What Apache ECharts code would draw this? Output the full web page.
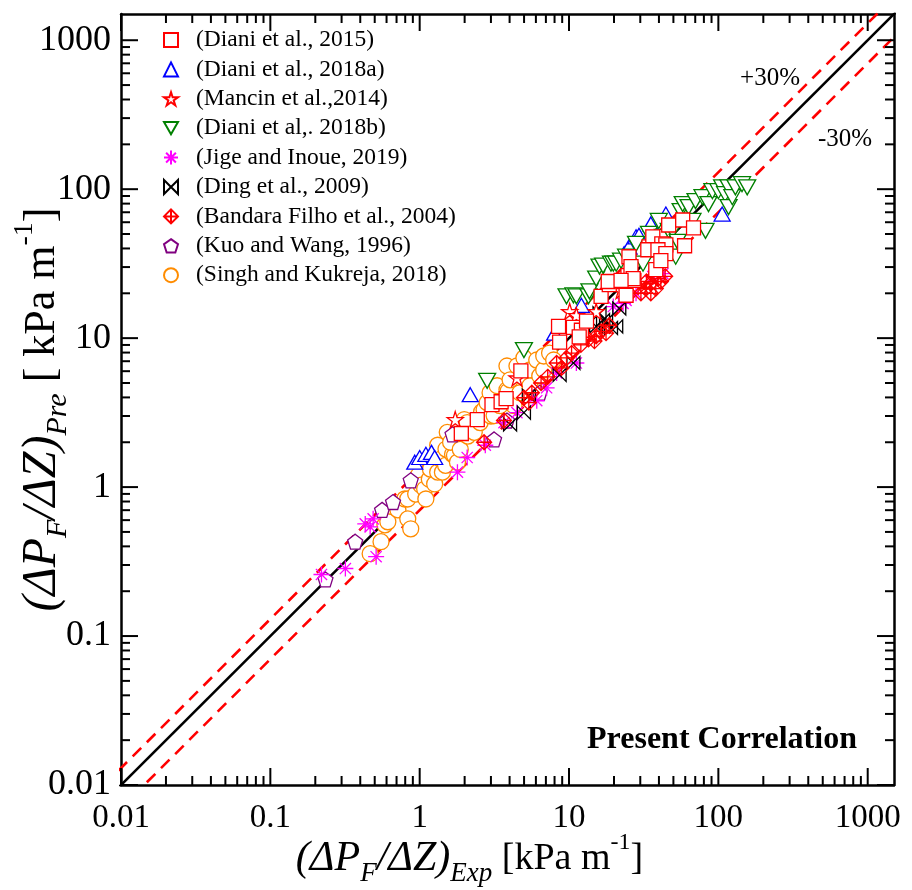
<!DOCTYPE html>
<html><head><meta charset="utf-8">
<script src="https://cdn.jsdelivr.net/npm/echarts@6/dist/echarts.min.js"></script>
<style>html,body{margin:0;padding:0;background:#fff}#c{width:912px;height:890px}</style>
</head><body><div id="c"></div>
<script>
// ---------------- data ----------------
const seriesNames = [
  '(Diani et al., 2015)', '(Diani et al., 2018a)', '(Mancin et al.,2014)',
  '(Diani et al,. 2018b)', '(Jige and Inoue, 2019)', '(Ding et al., 2009)',
  '(Bandara Filho et al., 2004)', '(Kuo and Wang, 1996)', '(Singh and Kukreja, 2018)'
];
const diani2015 = [[1.90,2.29],[2.43,2.84],[3.05,3.58],[3.51,3.74],[3.79,3.92],[4.76,6.03],[8.51,12.0],[8.65,9.40],[10.7,11.8],[12.1,11.3],[13.1,13.0],[11.7,10.2],[16.4,19.1],[18.6,22.9],[24.1,19.4],[25.2,35.2],[27.2,24.4],[24.8,26.3],[38.1,28.8],[34.3,41.0],[36.4,47.9],[41.8,43.0],[46.5,57.5],[57.7,62.1],[68.2,55.0],[44.5,42.3],[33.7,39.2],[59.4,41.7],[39.4,39.2],[44.5,36.9],[41.2,33.1],[26.0,30.2],[18.3,24.0],[26.9,25.1],[22.3,24.4]];
const diani2018a = [[0.927,1.47],[1.0,1.58],[1.10,1.66],[1.20,1.71],[1.26,1.58],[2.18,4.17],[8.01,10.8],[12.1,16.6],[23.4,36.9],[25.2,41.0],[28.1,47.9],[29.4,49.0],[35.3,58.4],[44.5,68.1],[106,68.1]];
const mancin2014 = [[1.73,2.84],[10.1,15.1],[11.2,14.2],[4.48,5.41],[15.2,15.1],[22.3,20.9]];
const diani2018b = [[2.83,5.17],[4.99,8.32],[9.62,19.1],[10.7,19.4],[11.2,19.1],[13.5,19.1],[13.7,20.6],[15.2,25.1],[16.0,30.2],[16.9,30.7],[19.1,31.6],[19.8,31.6],[20.7,31.6],[22.3,33.1],[24.1,35.2],[28.1,43.0],[31.3,31.6],[34.3,50.1],[38.1,41.7],[39.9,61.2],[42.5,47.9],[46.5,52.5],[49.4,52.5],[51.8,35.2],[53.4,44.3],[55.9,71.3],[57.7,79.4],[63.2,75.9],[67.1,61.2],[70.3,83.2],[78.3,88.4],[82.0,52.5],[85.9,79.4],[91.2,97.0],[100,97.0],[106,103],[111,92.6],[117,103],[117,75.9],[124,88.4],[130,103],[144,108],[156,103]];
const jige2019 = [[0.220,0.259],[0.318,0.284],[0.466,0.541],[0.432,0.566],[0.488,0.612],[0.511,0.341],[1.79,1.26],[2.08,1.58],[2.75,1.91],[3.67,2.71],[4.48,3.16],[6.08,3.80],[7.08,4.64],[8.26,5.84],[11.2,6.81],[19.8,16.3],[23.0,17.1],[24.1,17.9],[28.1,20.0],[36.4,25.9],[42.5,27.1]];
const ding2009 = [[4.03,2.63],[4.99,3.16],[5.38,4.10],[8.65,5.67],[10.7,6.81],[15.2,12.0],[16.0,14.7],[17.7,13.0],[19.1,11.7],[21.7,15.8],[20.7,12.0],[16.9,13.2]];
const bandara2004 = [[2.70,2.0],[3.67,2.80],[4.99,3.98],[5.38,3.69],[5.64,4.30],[6.5,5.0],[7.2,5.5],[8.26,6.81],[8.91,6.31],[9.62,7.36],[10.4,7.94],[12.0,9.0],[13.5,9.8],[14.8,9.55],[15.2,10.3],[16.4,11.1],[17.7,10.8],[18.6,12.2],[29.0,22.0],[30.3,20.0],[32.7,21.5],[33.0,24.0],[35.3,23.3],[35.3,20.0],[37.0,26.0],[38.1,21.5],[39.4,25.1],[41.2,24.0],[44.0,26.0]];
const kuo1996 = [[0.234,0.240],[0.370,0.430],[0.560,0.703],[0.663,0.794],[0.871,1.11],[1.66,2.26],[3.15,2.09],[3.84,2.80],[6.37,4.30]];
const singh2018 = [[0.466,0.357],[0.551,0.430],[0.585,0.558],[0.612,0.585],[0.715,0.703],[0.794,0.832],[0.832,0.612],[0.871,0.525],[0.832,0.832],[0.940,0.898],[0.98,1.20],[1.02,1.03],[1.08,0.970],[1.10,0.832],[1.16,1.13],[1.18,1.32],[1.26,1.05],[1.32,1.26],[1.32,1.91],[1.38,1.54],[1.42,1.26],[1.49,1.40],[1.50,1.80],[1.53,2.33],[1.66,1.66],[1.71,1.63],[1.79,1.47],[1.61,2.0],[1.87,1.79],[1.99,2.84],[2.08,2.71],[2.10,2.20],[2.32,2.33],[2.54,2.71],[2.60,3.20],[2.70,3.31],[2.83,3.69],[2.96,4.30],[3.00,3.00],[3.15,3.02],[3.30,4.79],[3.45,3.52],[3.84,4.50],[3.84,6.50],[3.90,4.40],[4.03,5.25],[4.28,3.52],[4.48,6.50],[4.69,4.30],[4.99,7.36],[5.22,5.25],[5.47,4.79],[5.47,6.12],[6.08,7.13],[6.37,5.58],[6.77,6.12],[6.77,7.59],[7.41,7.94],[7.89,7.13]];

const tickLabels = ['0.01', '0.1', '1', '10', '100', '1000'];
const majorTicks = [0.01, 0.1, 1, 10, 100, 1000];
const minorMultipliers = [2, 3, 4, 5, 6, 7, 8, 9];
const axisMin = 0.01, axisMax = 1500;
const refFactors = { equal: 1, plus30: 1.3, minus30: 0.7 };
const refSpan = [0.005, 3000];

// ---------------- symbols ----------------
const SYM = {
  downTri: 'path://M0,0 L100,0 L50,87 Z',
  star: 'path://M50,0 L61.17,34.63 L97.55,34.55 L68.07,55.87 L79.39,90.45 L50,69 L20.61,90.45 L31.93,55.87 L2.45,34.55 L38.83,34.63 Z',
  pent: 'path://M50,0 L97.55,34.55 L79.39,90.45 L20.61,90.45 L2.45,34.55 Z',
  aster: 'path://M50,0 L50,100 M0,50 L100,50 M15,15 L85,85 M85,15 L15,85',
  bowtie: 'path://M0,0 L100,100 L100,0 L0,100 Z',
  crossDia: 'path://M50,0 L100,50 L50,100 L0,50 Z M50,0 L50,100 M0,50 L100,50'
};

function scat(name, data, symbol, size, color, fill, bw) {
  return {
    name, type: 'scatter', data, symbol, symbolSize: size,
    itemStyle: { color: fill, borderColor: color, borderWidth: bw || 1.3, opacity: 1 },
    emphasis: { disabled: true }, silent: true
  };
}
function refLine(f, color, type) {
  return {
    type: 'line', data: refSpan.map(v => [v, v * f]), symbol: 'none', silent: true,
    lineStyle: { color, width: 2.6, type }, clip: true, z: 1
  };
}
const tickData = [];
majorTicks.forEach(m => {
  tickData.push([m, m, 1]);
  minorMultipliers.forEach(k => { const v = m * k; if (v < axisMax) tickData.push([v, v, 0]); });
});

const labelFmt = v => {
  const l = Math.log10(v), r = Math.round(l);
  return (Math.abs(l - r) < 1e-6 && r >= -2 && r <= 3) ? tickLabels[r + 2] : '';
};
function richName(k, lh) {
  return {
    a: { fontFamily: 'Liberation Serif', fontStyle: 'italic', fontSize: Math.round(33 * k), lineHeight: lh, verticalAlign: 'middle', color: '#000' },
    s: { fontFamily: 'Liberation Serif', fontStyle: 'italic', fontSize: Math.round(21 * k), lineHeight: lh, verticalAlign: 'bottom', color: '#000' },
    b: { fontFamily: 'Liberation Serif', fontSize: Math.round(30 * k), lineHeight: lh, verticalAlign: 'middle', color: '#000' },
    p: { fontFamily: 'Liberation Serif', fontSize: Math.round(19 * k), lineHeight: lh, verticalAlign: 'top', color: '#000' }
  };
}
const baseAxis = {
  type: 'log', logBase: 10, min: axisMin, max: axisMax,
  axisLine: { show: true, onZero: false, lineStyle: { color: '#000', width: 2.5 } },
  axisTick: { show: false }, splitLine: { show: false }, minorTick: { show: false }
};

const chart = echarts.init(document.getElementById('c'), null, { renderer: 'canvas' });
chart.setOption({
  animation: false,
  backgroundColor: '#fff',
  grid: { left: 121, right: 18, top: 14, bottom: 105, containLabel: false, outerBoundsMode: 'none' },
  xAxis: [
    Object.assign({}, baseAxis, {
      position: 'bottom',
      axisLabel: { formatter: labelFmt, showMaxLabel: false, fontFamily: 'Liberation Serif', fontSize: 33, color: '#000', margin: 17 },
      name: '{a|(ΔP}{s|F}{a|/ΔZ)}{s|Exp}{b| [kPa m}{p|-1}{b|]}',
      nameLocation: 'middle', nameGap: 46, nameMoveOverlap: false,
      nameTextStyle: { rich: richName(1.27, 56), padding: [0, 76, 0, 0] }
    }),
    Object.assign({}, baseAxis, { position: 'top', axisLabel: { show: false } })
  ],
  yAxis: [
    Object.assign({}, baseAxis, {
      position: 'left',
      axisLabel: { formatter: labelFmt, showMaxLabel: false, fontFamily: 'Liberation Serif', fontSize: 36, color: '#000', margin: 10 },
      name: '{a|(ΔP}{s|F}{a|/ΔZ)}{s|Pre}{b| [ kPa m}{p|-1}{b|]}',
      nameLocation: 'middle', nameGap: 48, nameRotate: 90, nameMoveOverlap: false,
      nameTextStyle: { rich: richName(1.45, 62), padding: [0, 20, 0, 0] }
    }),
    Object.assign({}, baseAxis, { position: 'right', axisLabel: { show: false } })
  ],
  legend: {
    data: seriesNames, orient: 'vertical', left: 158, top: 23,
    itemWidth: 14, itemHeight: 14, itemGap: 5.4,
    textStyle: { fontFamily: 'Liberation Serif', fontSize: 23.5, color: '#000', padding: [0, 0, 0, 13], lineHeight: 22 },
    selectedMode: false
  },
  graphic: [
    { type: 'text', x: 770, y: 78, style: { text: '+30%', font: '25px "Liberation Serif"', fill: '#000', align: 'center', verticalAlign: 'middle' } },
    { type: 'text', x: 845, y: 139, style: { text: '-30%', font: '25px "Liberation Serif"', fill: '#000', align: 'center', verticalAlign: 'middle' } },
    { type: 'text', x: 722, y: 740, style: { text: 'Present Correlation', font: 'bold 32px "Liberation Serif"', fill: '#000', align: 'center', verticalAlign: 'middle' } }
  ],
  series: [
    refLine(refFactors.equal, '#000', 'solid'),
    refLine(refFactors.plus30, '#ff0000', [12, 8]),
    refLine(refFactors.minus30, '#ff0000', [12, 8]),
    scat(seriesNames[8], singh2018, 'circle', 16, '#ff8c00', '#fff'),
    scat(seriesNames[7], kuo1996, SYM.pent, 15, '#800080', '#fff'),
    scat(seriesNames[4], jige2019, SYM.aster, 16, '#ff00ff', 'rgba(0,0,0,0)'),
    scat(seriesNames[5], ding2009, SYM.bowtie, 13, '#000', 'rgba(0,0,0,0)'),
    scat(seriesNames[6], bandara2004, SYM.crossDia, 15, '#ff0000', 'rgba(0,0,0,0)'),
    scat(seriesNames[1], diani2018a, 'triangle', [16, 14], '#0000ff', '#fff'),
    scat(seriesNames[2], mancin2014, SYM.star, 16, '#ff0000', '#fff'),
    scat(seriesNames[3], diani2018b, SYM.downTri, [17, 15], '#008000', '#fff'),
    scat(seriesNames[0], diani2015, 'rect', 14, '#ff0000', '#fff'),
    {
      type: 'custom', data: tickData, encode: { x: 0, y: 1 }, clip: false, silent: true, z: 5,
      renderItem: function (params, api) {
        const v = api.value(0), major = api.value(2);
        const cs = params.coordSys;
        const px = api.coord([v, axisMin])[0];
        const py = api.coord([axisMin, v])[1];
        const len = major ? 17 : 9;
        const st = { stroke: '#000', lineWidth: 2 };
        const bot = cs.y + cs.height, right = cs.x + cs.width;
        return {
          type: 'group', children: [
            { type: 'line', shape: { x1: px, y1: bot, x2: px, y2: bot - len }, style: st },
            { type: 'line', shape: { x1: px, y1: cs.y, x2: px, y2: cs.y + len }, style: st },
            { type: 'line', shape: { x1: cs.x, y1: py, x2: cs.x + len, y2: py }, style: st },
            { type: 'line', shape: { x1: right, y1: py, x2: right - len, y2: py }, style: st }
          ]
        };
      }
    }
  ]
});
</script></body></html>
